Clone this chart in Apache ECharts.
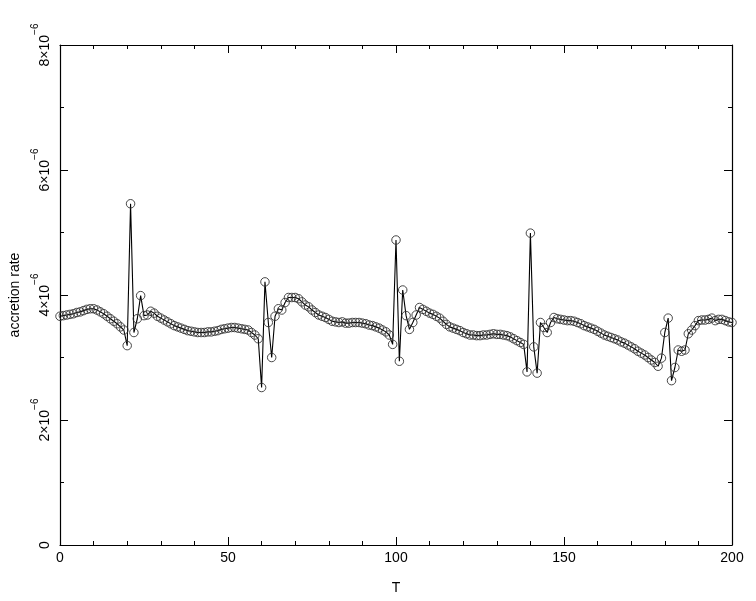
<!DOCTYPE html>
<html>
<head>
<meta charset="utf-8">
<script src="https://cdn.jsdelivr.net/npm/echarts@6/dist/echarts.min.js"></script>
<style>
  html, body { margin: 0; padding: 0; background: #fff; }
  #chart { width: 756px; height: 601px; }
</style>
</head>
<body>
<div id="chart"></div>
<script>
// accretion rate, in units of 1e-6, for T = 0 .. 200 (one value per step)
const rateE6 = [
  3.66, 3.67, 3.68, 3.69, 3.70, 3.72, 3.73, 3.75, 3.77, 3.78,
  3.78, 3.76, 3.73, 3.70, 3.66, 3.62, 3.58, 3.54, 3.49, 3.44,
  3.19, 5.46, 3.40, 3.62, 3.99, 3.67, 3.68, 3.74, 3.71, 3.66,
  3.63, 3.60, 3.57, 3.54, 3.51, 3.49, 3.47, 3.45, 3.43, 3.42,
  3.41, 3.40, 3.40, 3.40, 3.41, 3.41, 3.42, 3.43, 3.45, 3.46,
  3.47, 3.48, 3.48, 3.47, 3.46, 3.45, 3.44, 3.40, 3.36, 3.30,
  2.52, 4.21, 3.56, 3.00, 3.66, 3.78, 3.76, 3.88, 3.96, 3.96,
  3.96, 3.94, 3.89, 3.84, 3.81, 3.76, 3.72, 3.68, 3.66, 3.64,
  3.61, 3.58, 3.57, 3.56, 3.57, 3.55, 3.55, 3.56, 3.56, 3.56,
  3.55, 3.54, 3.52, 3.51, 3.49, 3.47, 3.44, 3.41, 3.36, 3.21,
  4.88, 2.94, 4.08, 3.67, 3.45, 3.56, 3.68, 3.80, 3.77, 3.74,
  3.71, 3.69, 3.66, 3.63, 3.58, 3.53, 3.49, 3.47, 3.45, 3.43,
  3.40, 3.38, 3.36, 3.36, 3.35, 3.35, 3.36, 3.36, 3.37, 3.38,
  3.37, 3.37, 3.36, 3.35, 3.33, 3.30, 3.27, 3.24, 3.21, 2.77,
  4.99, 3.17, 2.75, 3.56, 3.48, 3.40, 3.56, 3.64, 3.62, 3.61,
  3.60, 3.59, 3.59, 3.58, 3.56, 3.54, 3.51, 3.49, 3.47, 3.45,
  3.42, 3.39, 3.36, 3.34, 3.32, 3.30, 3.28, 3.25, 3.23, 3.20,
  3.17, 3.14, 3.10, 3.07, 3.04, 3.00, 2.96, 2.92, 2.86, 2.99,
  3.40, 3.63, 2.63, 2.84, 3.12, 3.10, 3.12, 3.38, 3.44, 3.51,
  3.59, 3.60, 3.60, 3.61, 3.63, 3.59, 3.61, 3.61, 3.59, 3.57,
  3.56
];

const xTicks = [0, 50, 100, 150, 200];
const yTicks = [0, 2, 4, 6, 8];

const font = 'Liberation Sans, Arial, sans-serif';
const axisColor = '#000';

const chart = echarts.init(document.getElementById('chart'));

const points = rateE6.map((v, i) => [i, v]);

function yLabel(v) {
  if (v === 0) return '{b|0}';
  return '{b|' + v + '\u00d710}{s|\u22126}';
}

function frameAxis(minorSplit) {
  return {
    axisLine: { show: true, onZero: false, lineStyle: { color: axisColor, width: 1.2 } },
    axisTick: { show: true, inside: true, length: 8, lineStyle: { color: axisColor, width: 1 } },
    minorTick: { show: true, splitNumber: minorSplit, length: 4, lineStyle: { color: axisColor, width: 1 } },
    splitLine: { show: false },
    minorSplitLine: { show: false }
  };
}

const option = {
  animation: false,
  backgroundColor: '#fff',
  grid: { left: 60, right: 24, top: 45, bottom: 56 },
  xAxis: [
    Object.assign({
      type: 'value',
      min: xTicks[0],
      max: xTicks[xTicks.length - 1],
      interval: 50,
      position: 'bottom',
      name: 'T',
      nameLocation: 'middle',
      nameGap: 36,
      nameTextStyle: { color: axisColor, fontFamily: font, fontSize: 14 },
      axisLabel: { color: axisColor, fontFamily: font, fontSize: 14, margin: 6 }
    }, frameAxis(5)),
    Object.assign({
      type: 'value',
      min: xTicks[0],
      max: xTicks[xTicks.length - 1],
      interval: 50,
      position: 'top',
      axisLabel: { show: false }
    }, frameAxis(5))
  ],
  yAxis: [
    Object.assign({
      type: 'value',
      min: yTicks[0],
      max: yTicks[yTicks.length - 1],
      interval: 2,
      position: 'left',
      name: 'accretion rate',
      nameLocation: 'middle',
      nameGap: 28,
      nameTextStyle: { color: axisColor, fontFamily: font, fontSize: 14 },
      axisLabel: {
        color: axisColor,
        fontFamily: font,
        fontSize: 14,
        rotate: 90,
        align: 'center',
        verticalAlign: 'bottom',
        margin: 8,
        formatter: yLabel,
        rich: {
          b: { fontFamily: font, fontSize: 14, color: axisColor, lineHeight: 22, verticalAlign: 'bottom' },
          s: { fontFamily: font, fontSize: 10, color: axisColor, lineHeight: 22, verticalAlign: 'top' }
        }
      }
    }, frameAxis(2)),
    Object.assign({
      type: 'value',
      min: yTicks[0],
      max: yTicks[yTicks.length - 1],
      interval: 2,
      position: 'right',
      axisLabel: { show: false }
    }, frameAxis(2))
  ],
  series: [
    {
      type: 'line',
      data: points,
      symbol: 'circle',
      symbolSize: 8.5,
      showSymbol: true,
      showAllSymbol: true,
      lineStyle: { color: '#000', width: 1.1 },
      itemStyle: { color: 'rgba(0,0,0,0)', borderColor: '#333', borderWidth: 0.9 }
    }
  ]
};

chart.setOption(option);
</script>
</body>
</html>
